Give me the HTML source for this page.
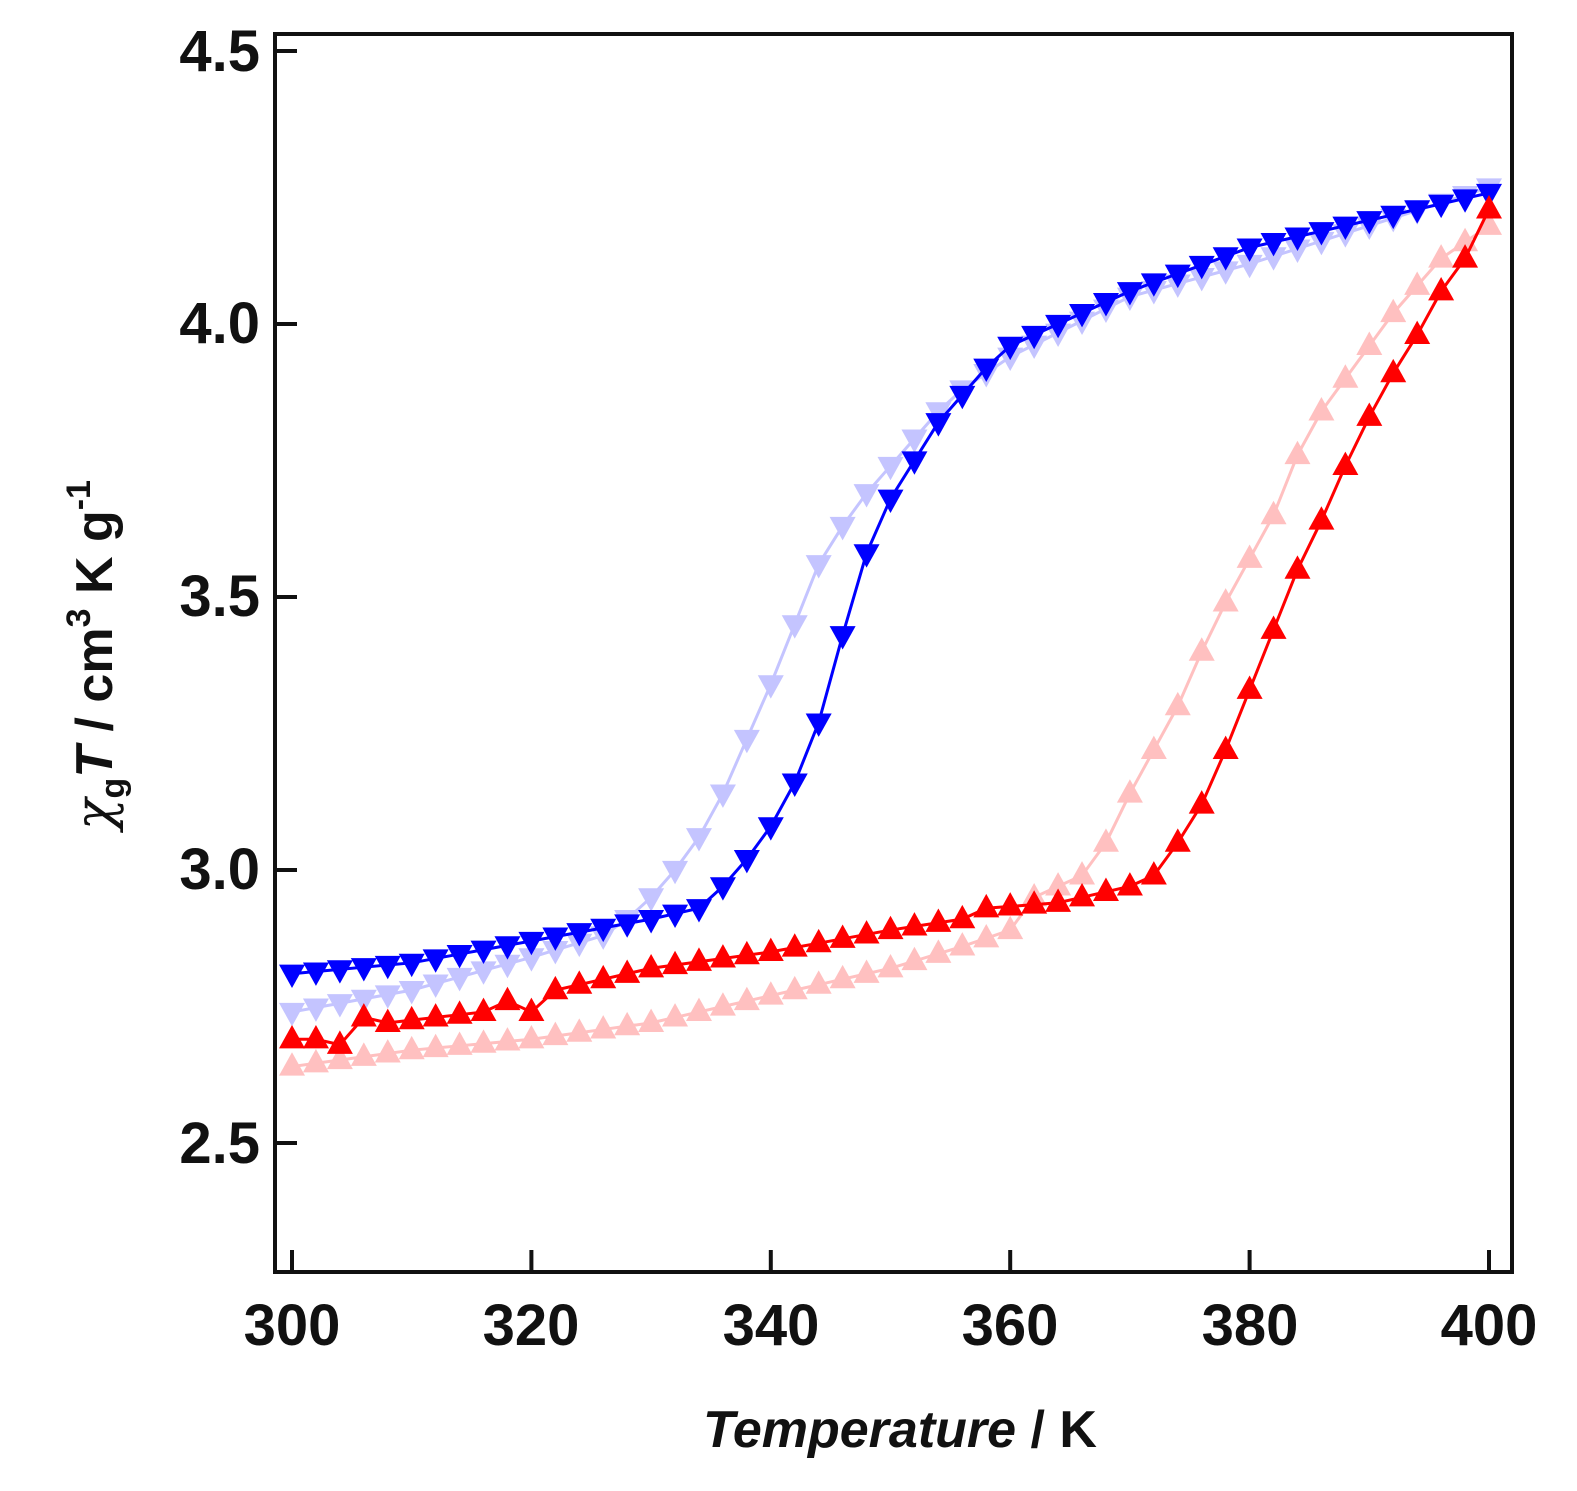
<!DOCTYPE html>
<html><head><meta charset="utf-8"><style>
body{margin:0;background:#fff}
svg text{font-family:"Liberation Sans",Arial,sans-serif;font-weight:bold;fill:#111}
</style></head><body>
<svg id="s" width="1577" height="1486" viewBox="0 0 1577 1486" xmlns="http://www.w3.org/2000/svg">
<rect x="275" y="34" width="1237" height="1238" fill="none" stroke="#111" stroke-width="4"/>
<g id="ticks" stroke="#111" stroke-width="4"></g>
<g id="data"></g>
<g font-size="58" text-anchor="end">
<text x="260" y="71">4.5</text><text x="260" y="343">4.0</text><text x="260" y="616">3.5</text>
<text x="260" y="889">3.0</text><text x="260" y="1163">2.5</text>
</g>
<g font-size="58" text-anchor="middle">
<text x="292" y="1345">300</text><text x="531" y="1345">320</text><text x="771" y="1345">340</text>
<text x="1010" y="1345">360</text><text x="1250" y="1345">380</text><text x="1489" y="1345">400</text>
</g>
<text x="900" y="1447" font-size="52" text-anchor="middle"><tspan font-style="italic">Temperature</tspan> / K</text>
<text transform="translate(112,655) rotate(-90)" font-size="52" text-anchor="middle"><tspan font-style="italic" font-weight="normal" font-family="DejaVu Serif, serif">χ</tspan><tspan font-size="34" dy="12">g</tspan><tspan font-style="italic" dy="-12">T</tspan> / cm<tspan font-size="34" dy="-22">3</tspan><tspan dy="22"> K g</tspan><tspan font-size="34" dy="-22">-1</tspan></text>
</svg>
<script>
const X=T=>292+(T-300)*11.97, Y=v=>870-(v-3)*546;
const tk=document.getElementById('ticks');let h='';
[4.5,4,3.5,3,2.5].forEach(v=>h+=`<line x1="275" x2="297" y1="${Y(v)}" y2="${Y(v)}"/>`);
[300,320,340,360,380,400].forEach(t=>h+=`<line x1="${X(t)}" x2="${X(t)}" y1="1272" y2="1250"/>`);
tk.innerHTML=h;
function pts(o){const k=Object.keys(o).map(Number).sort((a,b)=>a-b);const r=[];
for(let T=300;T<=400;T+=2){let i=0;while(i<k.length-2&&k[i+1]<T)i++;const a=k[i],b=k[i+1];r.push([T,o[a]+(o[b]-o[a])*(T-a)/(b-a)]);}return r;}
const S=[
[{300:2.74,310:2.78,320:2.84,326:2.88,328:2.91,330:2.95,332:3.00,334:3.06,336:3.14,338:3.24,340:3.34,342:3.45,344:3.56,346:3.63,348:3.69,350:3.74,352:3.79,354:3.84,356:3.88,360:3.94,370:4.05,380:4.11,390:4.18,400:4.25},'#c4c4ff',-1],
[{300:2.64,310:2.67,320:2.69,330:2.72,340:2.77,350:2.82,356:2.86,360:2.89,362:2.95,364:2.97,366:2.99,368:3.05,370:3.14,372:3.22,374:3.30,376:3.40,378:3.49,380:3.57,382:3.65,384:3.76,386:3.84,388:3.90,390:3.96,392:4.02,394:4.07,396:4.12,398:4.15,400:4.18},'#ffc0c0',1],
[{300:2.81,310:2.83,320:2.87,330:2.91,334:2.93,336:2.97,338:3.02,340:3.08,342:3.16,344:3.27,346:3.43,348:3.58,350:3.68,352:3.75,354:3.82,356:3.87,358:3.92,360:3.96,362:3.98,364:4.00,366:4.02,370:4.06,380:4.14,390:4.19,400:4.24},'#0000ff',-1],
[{300:2.69,302:2.69,304:2.68,306:2.73,308:2.72,312:2.73,316:2.74,318:2.76,320:2.74,322:2.78,330:2.82,340:2.85,350:2.89,356:2.91,358:2.93,364:2.94,370:2.97,372:2.99,374:3.05,376:3.12,378:3.22,380:3.33,382:3.44,384:3.55,386:3.64,388:3.74,390:3.83,392:3.91,394:3.98,396:4.06,398:4.12,400:4.21},'#ff0000',1]];
let g='';
S.forEach(([o,c,d])=>{const p=pts(o).map(([t,v])=>[X(t),Y(v)]);
g+=`<polyline fill="none" stroke="${c}" stroke-width="3" points="${p.map(q=>q.join(',')).join(' ')}"/>`;
p.forEach(([x,y])=>{const s=13;g+= d>0?`<polygon fill="${c}" points="${x-s},${y+s*0.7} ${x+s},${y+s*0.7} ${x},${y-s*1.1}"/>`:`<polygon fill="${c}" points="${x-s},${y-s*0.7} ${x+s},${y-s*0.7} ${x},${y+s*1.1}"/>`;});});
document.getElementById('data').innerHTML=g;
</script>
</body></html>
